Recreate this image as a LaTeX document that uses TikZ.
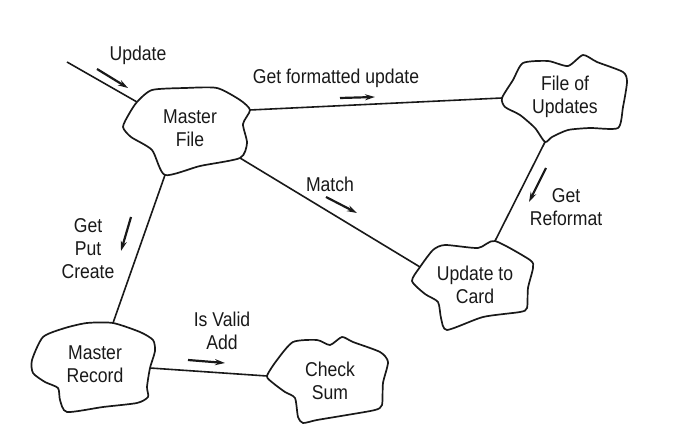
\documentclass[tikz,border=0pt]{standalone}
\usepackage{fontspec}
\setmainfont[FakeStretch=0.88]{Liberation Sans}
\usepackage{tikz}
\usetikzlibrary{arrows.meta}

\begin{document}
\begin{tikzpicture}[x=1pt, y=-1pt,
    blob/.style={draw=black!90, line width=1.7pt, line join=round},
    link/.style={draw=black!90, line width=1.6pt},
    flow/.style={draw=black!90, line width=2.2pt, -{Stealth[length=10pt, width=6pt]}},
    lbl/.style={font=\fontsize{20}{23}\selectfont, align=center, inner sep=0pt, text=black!90}
]
    \useasboundingbox (0,0) rectangle (696,443);

    % Master File
    \coordinate (mf_nw) at (137,102);
    \coordinate (mf_e) at (250,110);
    \coordinate (mf_se) at (240,158);
    \coordinate (mf_s) at (165,175);
    \draw[blob] plot[smooth cycle, tension=0.4] coordinates {(mf_nw) (152,90) (185,88) (217,88) (240,100) (mf_e) (243,124) (247,143) (mf_se) (200,166) (mf_s) (152,150) (131,137) (123,127) (129,114)};
    \node[lbl] (mfile) at (190,128) {Master\\File};

    % File of Updates
    \coordinate (fu_w) at (502,98);
    \coordinate (fu_s) at (545,142);
    \draw[blob] plot[smooth cycle, tension=0.4] coordinates {(fu_w) (513,80) (523,63) (548,61) (568,66) (583,55) (597,62) (623,72) (627,82) (623,107) (618,128) (590,128) (568,130) (552,137) (fu_s) (535,128) (520,115) (505,107)};
    \node[lbl] (fupd) at (565,97) {File of\\Updates};

    % Update to Card
    \coordinate (uc_w) at (420,267);
    \coordinate (uc_n) at (495,241);
    \draw[blob] plot[smooth cycle, tension=0.4] coordinates {(uc_w) (433,250) (445,245) (478,248) (uc_n) (530,260) (533,268) (528,288) (527,308) (520,312) (483,317) (447,330) (441,318) (438,302) (425,294) (412,281)};
    \node[lbl] (ucard) at (475,285) {Update to\\Card};

    % Master Record
    \coordinate (mr_n) at (113,323);
    \coordinate (mr_e) at (150,368);
    \draw[blob] plot[smooth cycle, tension=0.4] coordinates {(mr_n) (140,332) (153,340) (155,351) (mr_e) (147,387) (148,397) (137,403) (103,407) (67,412) (60,400) (58,388) (45,382) (33,373) (32,360) (43,337) (65,328) (87,323)};
    \node[lbl] (mrec) at (95,364) {Master\\Record};

    % Check Sum
    \coordinate (cs_w) at (267,376);
    \draw[blob] plot[smooth cycle, tension=0.4] coordinates {(cs_w) (277,360) (293,342) (317,340) (330,345) (342,337) (353,342) (380,352) (388,362) (383,383) (382,405) (375,410) (347,415) (317,420) (303,423) (298,417) (295,398) (285,392) (273,383)};
    \node[lbl] (csum) at (330,381) {Check\\Sum};

    % connectors
    \coordinate (src) at (67,62);
    \draw[link] (src) -- (mf_nw);
    \draw[link] (mf_e) -- (fu_w);
    \draw[link] (mf_se) -- (uc_w);
    \draw[link] (fu_s) -- (uc_n);
    \draw[link] (mf_s) -- (mr_n);
    \draw[link] (mr_e) -- (cs_w);

    % labels with flow arrows
    \node[lbl] (l_upd) at (138,55) {Update};
    \draw[flow] (97,69) -- (128,88);

    \node[lbl] (l_fmt) at (336,78) {Get formatted update};
    \draw[flow] (340,98) -- (375,97);

    \node[lbl] (l_match) at (330,184) {Match};
    \draw[flow] (326,197) -- (357,213);

    \node[lbl] (l_refmt) at (566,207) {Get\\Reformat};
    \draw[flow] (546,168) -- (529,202);

    \node[lbl] (l_gpc) at (88,249) {Get\\Put\\Create};
    \draw[flow] (131,217) -- (121,251);

    \node[lbl] (l_valid) at (222,331) {Is Valid\\Add};
    \draw[flow] (188,360) -- (225,363);
\end{tikzpicture}
\end{document}
